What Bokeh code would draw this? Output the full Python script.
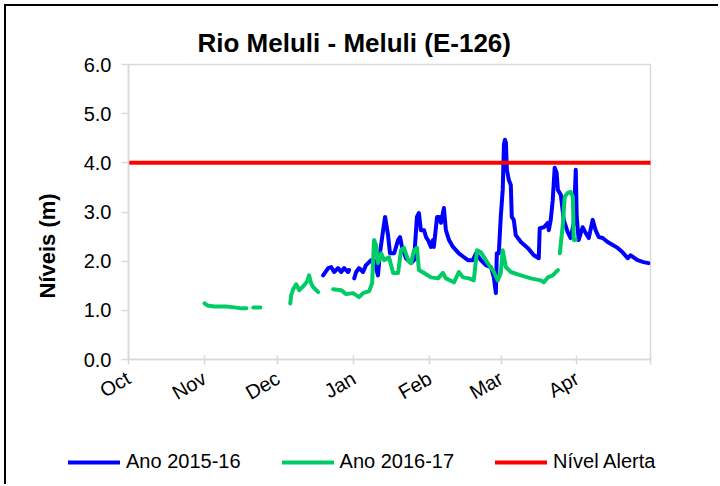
import math
from bokeh.plotting import figure
from bokeh.layouts import column
from bokeh.models import (Range1d, FixedTicker, PrintfTickFormatter, Legend,
                          LegendItem, Title)
from bokeh.embed import file_html
from bokeh.resources import INLINE

NaN = float("nan")

# x axis: days counted from 1 October
month_days = [0, 31, 61, 92, 123, 152, 183, 213]
month_labels = ["Oct", "Nov", "Dec", "Jan", "Feb", "Mar", "Apr", ""]
level_ticks = [0, 1, 2, 3, 4, 5, 6]

# Ano 2015-16
blue_days = [79.4, 81.5, 82.7, 83.9, 85.5, 86.8, 88.0, 89.6, 90.0, NaN,
             92.1, 92.9, 94.1, 95.7, 96.9, 99.0, 100.2, 101.8, 102.6, 103.9,
             104.7, 105.9, 106.7, 108.4, 110.0, 110.8, 111.6, 113.2, 115.3, 116.5,
             117.7, 118.5, 119.3, 120.6, 121.4, 122.2, 123.4, 124.2, 124.6, 125.9,
             126.7, 127.5, 128.7, 129.5, 130.8, 132.4, 134.8, 136.9, 138.5, 140.5,
             141.8, 143.8, 145.8, 147.9, 149.1, 149.9, 150.3, 151.1, 151.9, 152.7,
             153.2, 153.6, 154.0, 154.4, 155.2, 156.0, 156.4, 157.2, 158.0, 160.1,
             162.9, 165.4, 167.4, 167.8, 169.5, 171.1, 171.5, 172.3, 173.1, 173.9,
             174.7, 175.2, 176.4, 177.6, 179.2, 180.4, 181.7, 182.5, 182.9, 183.7,
             185.3, 186.6, 187.8, 189.4, 190.6, 191.9, 193.5, 195.5, 197.6, 199.6,
             201.6, 203.7, 204.9, 207.7, 210.2, 212.2]
blue_levels = [1.71, 1.86, 1.88, 1.78, 1.86, 1.78, 1.86, 1.78, 1.82, NaN,
               1.65, 1.78, 1.86, 1.78, 1.92, 2.02, 2.02, 1.71, 2.16, 2.63,
               2.90, 2.53, 2.16, 2.16, 2.43, 2.49, 2.29, 2.06, 1.96, 2.02,
               2.90, 2.98, 2.63, 2.63, 2.49, 2.43, 2.29, 2.43, 2.29, 2.90,
               2.90, 2.78, 3.08, 2.63, 2.43, 2.29, 2.16, 2.08, 2.02, 2.02,
               2.16, 2.02, 1.92, 1.88, 1.67, 1.35, 2.16, 2.16, 2.90, 3.45,
               4.37, 4.47, 4.41, 3.86, 3.65, 3.55, 2.90, 2.84, 2.53, 2.39,
               2.27, 2.12, 2.06, 2.67, 2.69, 2.78, 2.63, 2.84, 3.24, 3.90,
               3.80, 3.45, 3.35, 2.84, 2.59, 2.47, 2.78, 3.86, 2.90, 2.43,
               2.69, 2.57, 2.47, 2.84, 2.63, 2.49, 2.47, 2.39, 2.33, 2.27,
               2.18, 2.06, 2.12, 2.02, 1.98, 1.96]

# Ano 2016-17
green_days = [31.0, 32.2, 35.0, 39.9, 43.2, 46.0, 48.1, NaN, 50.9, 53.8, NaN,
              66.0, 66.4, 67.2, 68.4, 69.7, 70.5, 71.7, 72.9, 73.7, 74.5, 75.4, 77.4, NaN,
              83.5, 86.8, 88.8, 91.6, 94.1, 95.7, 98.2, 99.4,
              100.2, 101.0, 101.8, 103.1, 104.3, 106.3, 108.0, 110.0,
              111.2, 112.4, 114.1, 115.3, 116.5, 117.7, 118.5, 120.6,
              123.4, 126.3, 128.3, 129.5, 132.8, 134.8, 136.5, 138.9,
              140.9, 142.2, 143.8, 146.6, 149.1, 150.7, 151.9, 152.7,
              154.0, 156.0, 160.1, 164.2, 168.2, 169.5, 171.1, 173.1,
              175.2, NaN,
              176.0, 177.2, 178.0, 179.2, 180.4, 181.3, 181.7, 182.5]
green_levels = [1.14, 1.10, 1.08, 1.08, 1.06, 1.04, 1.04, NaN, 1.06, 1.06, NaN,
                1.14, 1.31, 1.43, 1.53, 1.41, 1.45, 1.51, 1.59, 1.71, 1.55, 1.47, 1.37, NaN,
                1.43, 1.41, 1.33, 1.35, 1.27, 1.35, 1.39, 1.55,
                2.43, 2.33, 1.96, 2.16, 2.02, 2.08, 1.76, 1.76,
                2.22, 2.27, 2.02, 1.96, 2.22, 2.27, 1.82, 1.76,
                1.67, 1.65, 1.76, 1.65, 1.57, 1.78, 1.67, 1.65,
                1.61, 2.22, 2.18, 1.96, 1.78, 1.61, 1.76, 2.22,
                1.88, 1.78, 1.71, 1.65, 1.61, 1.57, 1.67, 1.71,
                1.82, NaN,
                2.16, 2.73, 3.31, 3.39, 3.41, 3.31, 2.43, 2.43]

# Nível Alerta
alert_days = [0, 213]
alert_levels = [4.0, 4.0]

series_names = ["Ano 2015-16", "Ano 2016-17", "Nível Alerta"]
series_colors = ["#0000FF", "#00CC66", "#FF0000"]
series_x = [blue_days, green_days, alert_days]
series_y = [blue_levels, green_levels, alert_levels]

assert len(blue_days) == len(blue_levels)
assert len(green_days) == len(green_levels)

FONT = "Liberation Sans"
AXIS_GREY = "#D9D9D9"

p = figure(width=712, height=420,
           x_range=Range1d(0, 213), y_range=Range1d(0, 6),
           output_backend="svg", toolbar_location=None,
           min_border_left=122, min_border_right=68,
           min_border_top=58, min_border_bottom=67)
p.frame_align = False

p.title.text = "Rio Meluli - Meluli (E-126)"
p.title.text_font = FONT
p.title.text_font_size = "26px"
p.title.text_font_style = "bold"
p.title.text_color = "#000000"
p.title.align = "left"
p.title.offset = 69
p.title.standoff = 14

p.xgrid.visible = False
p.ygrid.visible = False
p.outline_line_color = AXIS_GREY
p.outline_line_width = 1.5
p.background_fill_color = "white"
p.border_fill_color = "white"

xa = p.xaxis[0]
xa.ticker = FixedTicker(ticks=month_days)
xa.major_label_overrides = {d: lab for d, lab in zip(month_days, month_labels)}
xa.major_label_orientation = math.pi / 6
xa.major_tick_in = 4
xa.major_tick_out = 5
xa.major_label_standoff = 12

ya = p.yaxis[0]
ya.ticker = FixedTicker(ticks=level_ticks)
ya.formatter = PrintfTickFormatter(format="%.1f")
ya.major_tick_in = 0
ya.major_tick_out = 7
ya.major_label_standoff = 10

for ax in (xa, ya):
    ax.axis_line_color = AXIS_GREY
    ax.axis_line_width = 1.5
    ax.major_tick_line_color = AXIS_GREY
    ax.major_tick_line_width = 1.5
    ax.minor_tick_line_color = None
    ax.major_label_text_font = FONT
    ax.major_label_text_font_size = "20px"
    ax.major_label_text_color = "#000000"

for xs, ys, color in zip(series_x, series_y, series_colors):
    p.line(xs, ys, line_color=color, line_width=4,
           line_join="round", line_cap="round")

ytitle = Title(text="Níveis (m)", align="left", offset=61, standoff=41,
               text_font=FONT, text_font_size="22px", text_font_style="bold",
               text_color="#000000")
p.add_layout(ytitle, "left")

# legend strip below the chart (its series lie outside its 0..1 ranges)
lg = figure(width=712, height=58, x_range=Range1d(0, 1), y_range=Range1d(0, 1),
            output_backend="svg", toolbar_location=None,
            x_axis_type=None, y_axis_type=None, min_border=0)
lg.frame_align = False
lg.xgrid.visible = False
lg.ygrid.visible = False
lg.outline_line_color = None
lg.background_fill_color = "white"
lg.border_fill_color = "white"

items = []
for name, color, xs, ys in zip(series_names, series_colors, series_x, series_y):
    r = lg.line(xs, ys, line_color=color, line_width=4, line_cap="round")
    items.append(LegendItem(label=name, renderers=[r]))

legend = Legend(items=items, orientation="horizontal", location=(62, 11),
                glyph_width=52, glyph_height=20, label_standoff=6, spacing=41,
                padding=0, margin=0, border_line_color=None,
                background_fill_alpha=0,
                label_text_font=FONT, label_text_font_size="20px",
                label_text_color="#000000")
lg.add_layout(legend)

page = column(p, lg, spacing=0, margin=(4, 0, 0, 4),
              styles={"border-top": "2px solid black", "border-left": "2px solid black"})

open("out.html", "w").write(file_html(page, INLINE))
